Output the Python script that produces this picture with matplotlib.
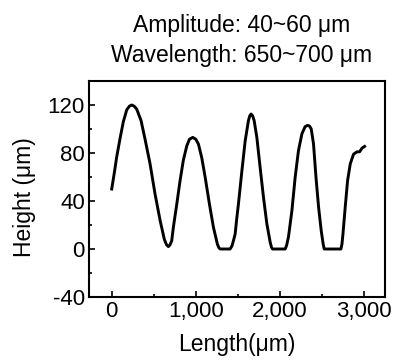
import matplotlib
matplotlib.use("Agg")
import matplotlib.pyplot as plt
from matplotlib.ticker import MultipleLocator, FuncFormatter

plt.rcParams['font.family'] = ['Liberation Sans', 'DejaVu Sans']

# Profile (length in µm, height in µm)
length = [0, 30, 60, 99, 138, 179, 210, 238, 268, 298, 349, 396, 456, 515, 575, 626,
          652, 674, 694, 714, 733, 774, 813, 852, 893, 925, 964, 1000, 1031, 1071,
          1111, 1162, 1210, 1257, 1275, 1289, 1408, 1430, 1448, 1468, 1488, 1507, 1548,
          1587, 1626, 1642, 1658, 1676, 1694, 1726, 1765, 1805, 1845, 1885, 1900, 1912,
          2063, 2080, 2102, 2143, 2182, 2221, 2262, 2300, 2329, 2352, 2373, 2400, 2429,
          2460, 2492, 2515, 2527, 2726, 2738, 2750, 2777, 2805, 2837, 2876, 2917, 2948,
          2962, 2976, 3007]
height = [50, 63, 77, 92, 106, 116, 119, 120, 119, 116.5, 107, 91.7, 71, 46, 24, 8,
          3.5, 2, 3.5, 7, 18, 37.5, 57, 74, 86, 91.5, 93, 91.5, 87.5, 76,
          60, 37.5, 18, 4, 1, 0, 0, 2.5, 7, 12.5, 26, 37.5, 65,
          90, 107, 111, 112.5, 111, 107, 93, 68, 43, 21, 5.5, 1.5, 0,
          0, 3, 10, 32, 60, 82, 96, 102, 103, 102.5, 100, 87.5, 60,
          35, 15, 4, 0, 0, 4, 12.5, 35, 57, 71, 79, 81, 81,
          82.5, 84, 85.5]

title_lines = ["Amplitude: 40~60 μm", "Wavelength: 650~700 μm"]
x_label = "Length(μm)"
y_label = "Height (μm)"

fig = plt.figure(figsize=(3.98, 3.61), dpi=100)
ax = fig.add_axes([89/398, 1-297/361, (385-89)/398, (297-81)/361])
ax.plot(length, height, color='black', lw=2.1, solid_joinstyle='round')

ax.set_xlim(-270, 3250)
ax.set_ylim(-40, 140)
ax.xaxis.set_major_locator(MultipleLocator(1000))
ax.xaxis.set_minor_locator(MultipleLocator(500))
ax.yaxis.set_major_locator(MultipleLocator(40))
ax.yaxis.set_minor_locator(MultipleLocator(20))
ax.xaxis.set_major_formatter(FuncFormatter(lambda v, p: f"{int(v):,}"))
ax.yaxis.set_major_formatter(FuncFormatter(lambda v, p: f"{int(v)}"))
ax.tick_params(which='both', direction='in', top=False, right=False, labelsize=16, width=1.2)
ax.tick_params(which='major', length=4, pad=3)
ax.tick_params(which='minor', length=2.5)
for s in ax.spines.values():
    s.set_linewidth(1.5)

ax.set_xlabel(x_label, fontsize=16.5, labelpad=8)
ax.set_ylabel(y_label, fontsize=16.5)
ax.yaxis.set_label_coords(-0.18, 0.463)
fig.text(0.608, 0.928, title_lines[0], ha='center', va='center', fontsize=16.5)
fig.text(0.608, 0.847, title_lines[1], ha='center', va='center', fontsize=16.5)

fig.savefig("out.png", dpi=100)
